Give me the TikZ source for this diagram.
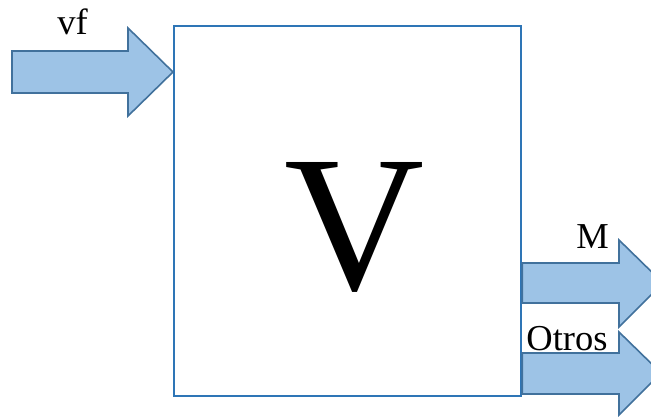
\documentclass[tikz,border=0pt]{standalone}
\usepackage{fontspec}
\setmainfont{Liberation Serif}
\definecolor{arrowfill}{HTML}{9DC3E6}
\definecolor{arrowline}{HTML}{41719C}
\definecolor{boxline}{HTML}{2E75B6}
\begin{document}
\begin{tikzpicture}[x=1pt, y=-1pt,
  blockarrow/.style={fill=arrowfill, draw=arrowline, line width=1.6pt, line join=miter},
  sysbox/.style={draw=boxline, line width=2.2pt, inner sep=0pt, anchor=north west,
    minimum width=347pt, minimum height=370pt},
  lbl/.style={font=\fontsize{36.5}{36.5}\selectfont, anchor=base, inner sep=0pt}]
  \useasboundingbox (0,0) rectangle (651,417);
  \clip (0,0) rectangle (651,417);
  % system block
  \node[sysbox] (sys) at (173,25) {};
  \node[font=\fontsize{194}{194}\selectfont, anchor=base, inner sep=0pt] (V) at (354.5,289) {V};
  % input arrow
  \draw[blockarrow] (12,51) -- (128,51) -- (128,28) -- (sys.west |- 0,72) -- (128,116)
    -- (128,93) -- (12,93) -- cycle;
  \node[lbl] (vf) at (72.5,35) {vf};
  % output arrows
  \draw[blockarrow] (sys.east |- 0,263) -- (619,263) -- (619,240) -- (663,283) -- (619,327)
    -- (619,303) -- (sys.east |- 0,303) -- cycle;
  \node[lbl] (M) at (592.5,248) {M};
  \draw[blockarrow] (sys.east |- 0,353) -- (619,353) -- (619,332) -- (661,373) -- (619,415)
    -- (619,394) -- (sys.east |- 0,394) -- cycle;
  \node[lbl] (otros) at (567,350) {Otros};
\end{tikzpicture}
\end{document}
